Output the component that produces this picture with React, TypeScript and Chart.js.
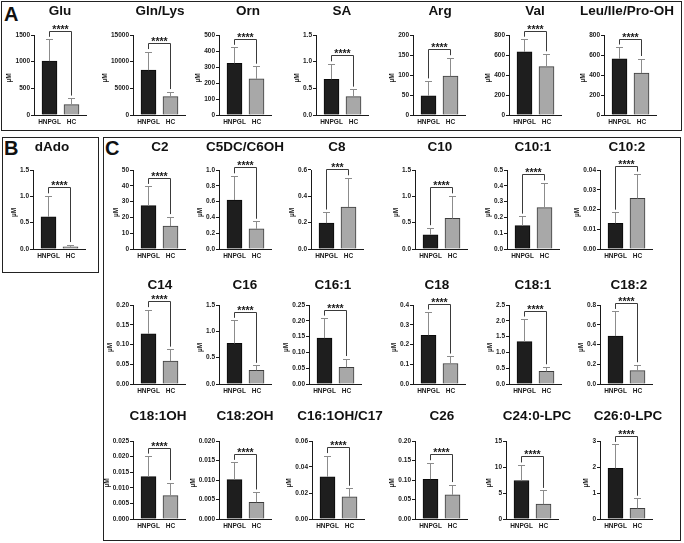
import React, { useEffect, useRef } from 'react';
import { Chart, registerables } from 'chart.js';

Chart.register(...registerables);

const FONT = '"Liberation Sans", Arial, Helvetica, sans-serif';

// ---------------- data ----------------
const GROUPS = ['HNPGL', 'HC'];

const TITLES = [
  'Glu', 'Gln/Lys', 'Orn', 'SA', 'Arg', 'Val', 'Leu/Ile/Pro-OH',
  'dAdo',
  'C2', 'C5DC/C6OH', 'C8', 'C10', 'C10:1', 'C10:2',
  'C14', 'C16', 'C16:1', 'C18', 'C18:1', 'C18:2',
  'C18:1OH', 'C18:2OH', 'C16:1OH/C17', 'C26', 'C24:0-LPC', 'C26:0-LPC',
];

const HNPGL_MEAN = [
  1010, 8400, 323, 0.67, 48, 631, 561,
  0.61,
  27.5, 0.62, 0.196, 0.27, 0.148, 0.013,
  0.127, 0.77, 0.145, 0.247, 1.34, 0.485,
  0.0136, 0.0101, 0.0324, 0.102, 7.4, 1.95,
];
const HNPGL_ERR = [
  1410, 11800, 420, 0.95, 84, 753, 675,
  1.0,
  39.3, 0.92, 0.277, 0.395, 0.205, 0.0184,
  0.187, 1.2, 0.207, 0.362, 2.04, 0.73,
  0.02, 0.0144, 0.0484, 0.143, 10.3, 2.85,
];
const HC_MEAN = [
  195, 3450, 226, 0.345, 97, 483, 420,
  0.04,
  14.5, 0.255, 0.319, 0.58, 0.262, 0.0256,
  0.058, 0.26, 0.053, 0.104, 0.4, 0.135,
  0.0075, 0.0043, 0.017, 0.062, 2.85, 0.41,
];
const HC_ERR = [
  308, 4300, 302, 0.475, 142, 607, 560,
  0.075,
  20.2, 0.345, 0.537, 1.0, 0.415, 0.0377,
  0.087, 0.345, 0.079, 0.139, 0.53, 0.19,
  0.0115, 0.0068, 0.0233, 0.087, 5.4, 0.78,
];
const Y_MAX = [
  1500, 15000, 500, 1.5, 200, 800, 800,
  1.5,
  50, 1.0, 0.6, 1.5, 0.5, 0.04,
  0.2, 1.5, 0.25, 0.4, 2.5, 0.8,
  0.025, 0.02, 0.06, 0.2, 15, 3,
];
const Y_STEP = [
  500, 5000, 100, 0.5, 50, 200, 200,
  0.5,
  10, 0.2, 0.2, 0.5, 0.1, 0.01,
  0.05, 0.5, 0.05, 0.1, 0.5, 0.2,
  0.005, 0.005, 0.02, 0.05, 5, 1,
];
const Y_DECIMALS = [
  0, 0, 0, 1, 0, 0, 0,
  1,
  0, 1, 1, 1, 1, 2,
  2, 1, 2, 1, 1, 1,
  3, 3, 2, 2, 0, 0,
];
const STARS = TITLES.map((t) => (t === 'C8' ? '***' : '****'));

// ---------------- layout ----------------
const AXIS_X = [
  34, 133, 219, 316, 413, 509, 604,
  33,
  133, 219, 311, 415, 507, 600,
  133, 219, 309, 413, 509, 600,
  133, 219, 312, 415, 506, 600,
];
const TITLE_X = [
  60, 160, 248, 342, 440, 535, 627,
  52,
  160, 245, 337, 440, 533, 627,
  160, 245, 333, 437, 533, 629,
  158, 245, 340, 442, 537, 628,
];
const ROW = [0, 0, 0, 0, 0, 0, 0, 1, 1, 1, 1, 1, 1, 1, 2, 2, 2, 2, 2, 2, 3, 3, 3, 3, 3, 3];
const ROW_TOP = [35, 170, 305, 441];
const ROW_ZERO = [115, 249, 384, 519];
const ROW_TITLE_Y = [11, 147, 285, 416];

const LEFT_W = 34;
const PAD_TOP = 34;
const PAD_RIGHT = 6;
const BOTTOM_H = 14;
const PLOT_W = 52;
const X_MIN = 1 - 15.5 / 22;
const X_MAX = 2 + 14.5 / 22;

const INK = '#1a1a1a';
const ERR = '#8c8c8c';
const BRACKET = '#3a3a3a';
const BAR_FILL = ['#1e1e1e', '#a8a8a8'];
const BAR_EDGE = ['#0a0a0a', '#3c3c3c'];
const TICK_FONT = { family: FONT, size: 6.5, weight: 'bold' as const };

function MiniChart({ i }: { i: number }) {
  const ref = useRef<HTMLCanvasElement | null>(null);
  const row = ROW[i];
  const plotH = ROW_ZERO[row] - ROW_TOP[row];
  const width = LEFT_W + PLOT_W + PAD_RIGHT;
  const height = PAD_TOP + plotH + BOTTOM_H;

  useEffect(() => {
    if (!ref.current) return;
    const dec = Y_DECIMALS[i];
    const nTicks = Math.round(Y_MAX[i] / Y_STEP[i]);

    const annot = {
      id: 'annot' + i,
      afterDatasetsDraw(chart: any) {
        const { ctx, scales, chartArea } = chart;
        const xs = scales.x;
        const ys = scales.y;
        const cx = [xs.getPixelForValue(1), xs.getPixelForValue(2)];
        const tops = [ys.getPixelForValue(HNPGL_MEAN[i]), ys.getPixelForValue(HC_MEAN[i])];
        const errs = [ys.getPixelForValue(HNPGL_ERR[i]), ys.getPixelForValue(HC_ERR[i])];
        ctx.save();
        // error bars
        ctx.strokeStyle = ERR;
        ctx.lineWidth = 1;
        for (let k = 0; k < 2; k++) {
          const px = Math.round(cx[k] - 0.5) + 0.5;
          const ey = Math.round(errs[k] - 0.5) + 0.5;
          ctx.beginPath();
          ctx.moveTo(px, tops[k]);
          ctx.lineTo(px, ey);
          ctx.moveTo(px - 3.5, ey);
          ctx.lineTo(px + 3.5, ey);
          ctx.stroke();
        }
        // significance bracket
        const by = Math.round(Math.min(errs[0], errs[1]) - 9) + 0.5;
        const l0 = Math.round(cx[0] - 0.5) + 0.5;
        const l1 = Math.round(cx[1] - 0.5) + 0.5;
        ctx.strokeStyle = BRACKET;
        ctx.beginPath();
        ctx.moveTo(l0, errs[0] - 3);
        ctx.lineTo(l0, by);
        ctx.lineTo(l1, by);
        ctx.lineTo(l1, errs[1] - 3);
        ctx.stroke();
        ctx.fillStyle = INK;
        ctx.font = `bold 10.5px ${FONT}`;
        ctx.textAlign = 'center';
        ctx.textBaseline = 'alphabetic';
        ctx.fillText(STARS[i], (l0 + l1) / 2, by + 1.5);
        // y axis title
        ctx.font = `bold 6.5px ${FONT}`;
        let maxW = 0;
        for (let k = 0; k <= nTicks; k++) {
          const w = ctx.measureText((k * Y_STEP[i]).toFixed(dec)).width;
          if (w > maxW) maxW = w;
        }
        const tx = chartArea.left - 4 - maxW - 6;
        const ty = (chartArea.top + chartArea.bottom) / 2 + 3;
        ctx.translate(tx, ty);
        ctx.rotate(-Math.PI / 2);
        ctx.textBaseline = 'middle';
        ctx.fillText('\u00B5M', 0, 0);
        ctx.restore();
      },
    };

    const chart = new Chart(ref.current, {
      type: 'bar',
      data: {
        datasets: [
          {
            data: [
              { x: 1, y: HNPGL_MEAN[i] },
              { x: 2, y: HC_MEAN[i] },
            ],
            backgroundColor: BAR_FILL,
            borderColor: BAR_EDGE,
            borderWidth: 1,
            barThickness: 15,
          },
        ],
      },
      options: {
        responsive: false,
        maintainAspectRatio: false,
        animation: false,
        events: [],
        layout: { padding: { left: 0, top: PAD_TOP, right: PAD_RIGHT, bottom: 0 } },
        plugins: {
          legend: { display: false },
          tooltip: { enabled: false },
          title: { display: false },
        },
        scales: {
          x: {
            type: 'linear',
            offset: false,
            min: X_MIN,
            max: X_MAX,
            grid: { display: false, drawTicks: false, offset: false },
            border: { display: true, color: INK, width: 1 },
            ticks: {
              font: TICK_FONT,
              color: INK,
              padding: 3,
              autoSkip: false,
              maxRotation: 0,
              callback: (v: any) => (v === 1 ? GROUPS[0] : v === 2 ? GROUPS[1] : ''),
            },
            afterBuildTicks: (s: any) => {
              s.ticks = [{ value: 1 }, { value: 2 }];
            },
            afterFit: (s: any) => {
              s.height = BOTTOM_H;
            },
          },
          y: {
            type: 'linear',
            min: 0,
            max: Y_MAX[i],
            grid: {
              display: true,
              drawOnChartArea: false,
              drawTicks: true,
              tickLength: 3,
              color: INK,
              lineWidth: 1,
            },
            border: { display: true, color: INK, width: 1 },
            ticks: {
              font: TICK_FONT,
              color: INK,
              padding: 1,
              autoSkip: false,
              callback: (v: any) => Number(v).toFixed(dec),
            },
            afterBuildTicks: (s: any) => {
              const t = [];
              for (let k = 0; k <= nTicks; k++) t.push({ value: k * Y_STEP[i] });
              s.ticks = t;
            },
            afterFit: (s: any) => {
              s.width = LEFT_W;
            },
          },
        },
      } as any,
      plugins: [annot],
    });
    return () => chart.destroy();
  }, [i]);

  return (
    <canvas
      ref={ref}
      width={width}
      height={height}
      style={{
        position: 'absolute',
        left: AXIS_X[i] - LEFT_W,
        top: ROW_TOP[row] - PAD_TOP,
        width,
        height,
      }}
    />
  );
}

const TITLE_SIZE = 13.5;

function Title({ i }: { i: number }) {
  return (
    <div
      style={{
        position: 'absolute',
        left: TITLE_X[i],
        top: ROW_TITLE_Y[ROW[i]] - TITLE_SIZE * 0.49,
        transform: 'translateX(-50%)',
        font: `bold ${TITLE_SIZE}px ${FONT}`,
        lineHeight: `${TITLE_SIZE}px`,
        whiteSpace: 'nowrap',
        color: '#111',
      }}
    >
      {TITLES[i]}
    </div>
  );
}

const PANELS = [
  { letter: 'A', left: 1, top: 1, width: 681, height: 130, lx: 4, ly: 3.5 },
  { letter: 'B', left: 2, top: 137, width: 97, height: 136, lx: 4, ly: 137.5 },
  { letter: 'C', left: 103, top: 137, width: 578, height: 404, lx: 105, ly: 137.5 },
];

export default function App() {
  return (
    <div
      style={{
        position: 'fixed',
        left: 0,
        top: 0,
        width: 684,
        height: 543,
        background: '#fff',
        overflow: 'hidden',
      }}
    >
      {PANELS.map((p) => (
        <React.Fragment key={p.letter}>
          <div
            style={{
              position: 'absolute',
              left: p.left,
              top: p.top,
              width: p.width,
              height: p.height,
              border: '1px solid #222',
              boxSizing: 'border-box',
            }}
          />
          <div
            style={{
              position: 'absolute',
              left: p.lx,
              top: p.ly,
              font: `bold 20px ${FONT}`,
              lineHeight: '20px',
              color: '#111',
            }}
          >
            {p.letter}
          </div>
        </React.Fragment>
      ))}
      {TITLES.map((_, i) => (
        <MiniChart key={'c' + i} i={i} />
      ))}
      {TITLES.map((_, i) => (
        <Title key={'t' + i} i={i} />
      ))}
    </div>
  );
}
